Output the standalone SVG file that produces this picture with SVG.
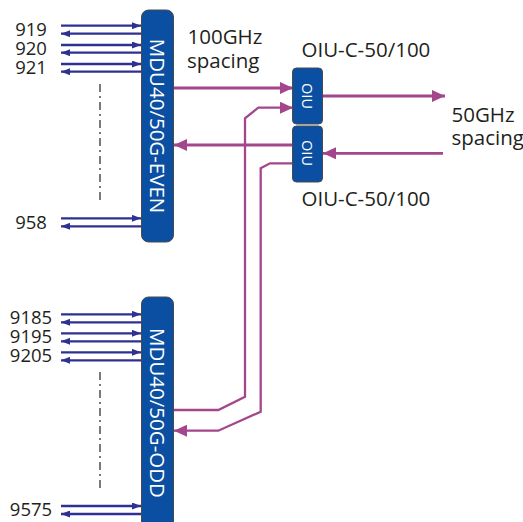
<svg xmlns="http://www.w3.org/2000/svg" width="523" height="522" viewBox="0 0 523 522">
<style>
.lbl{font-family:"Open Sans","Noto Sans","Liberation Sans",sans-serif;fill:#231f20}
.num{font-size:18.5px;text-anchor:middle}
.big{font-size:20.5px}
.box{fill:#0b4fa2;stroke:#4a4a4a;stroke-width:1}
.btxt{font-family:"Open Sans","Noto Sans","Liberation Sans",sans-serif;fill:#ffffff;text-anchor:middle;dominant-baseline:central}
.nv{stroke:#2e3192;stroke-width:2.3;fill:none}
.mg{stroke:#a4468c;stroke-width:2.8;fill:none}
.mg2{stroke:#a4468c;stroke-width:2.3;fill:none}
.dd{stroke:#333;stroke-width:1.3;stroke-dasharray:8 4 2 4;fill:none}
</style>
<defs>
<marker id="an" markerUnits="userSpaceOnUse" viewBox="0 0 9 7" markerWidth="9" markerHeight="7" refX="9" refY="3.5" orient="auto"><path d="M0,0 L9,3.5 L0,7 z" fill="#2e3192"/></marker>
<marker id="am" markerUnits="userSpaceOnUse" viewBox="0 0 13 12" markerWidth="13" markerHeight="12" refX="13" refY="6" orient="auto"><path d="M0,0 L13,6 L0,12 z" fill="#a4468c"/></marker>
</defs>

<g id="connectors">
<path class="nv" d="M61,25.7 H141" marker-end="url(#an)"/>
<path class="nv" d="M141,33.7 H61" marker-end="url(#an)"/>
<path class="nv" d="M61,45 H141" marker-end="url(#an)"/>
<path class="nv" d="M141,52.7 H61" marker-end="url(#an)"/>
<path class="nv" d="M61,64 H141" marker-end="url(#an)"/>
<path class="nv" d="M141,71.7 H61" marker-end="url(#an)"/>
<path class="nv" d="M61,218.3 H141" marker-end="url(#an)"/>
<path class="nv" d="M141,226.3 H61" marker-end="url(#an)"/>
<path class="nv" d="M61,314.3 H141" marker-end="url(#an)"/>
<path class="nv" d="M141,322.3 H61" marker-end="url(#an)"/>
<path class="nv" d="M61,333.3 H141" marker-end="url(#an)"/>
<path class="nv" d="M141,341.3 H61" marker-end="url(#an)"/>
<path class="nv" d="M61,352.3 H141" marker-end="url(#an)"/>
<path class="nv" d="M141,360.3 H61" marker-end="url(#an)"/>
<path class="nv" d="M61,506 H141" marker-end="url(#an)"/>
<path class="nv" d="M141,514 H61" marker-end="url(#an)"/>
<path class="dd" d="M100,84 V204"/>
<path class="dd" d="M100,372 V490"/>
<path class="mg" d="M174,88 H293" marker-end="url(#am)"/>
<path class="mg" d="M322.5,96 H445" marker-end="url(#am)"/>
<path class="mg" d="M443,153.3 H323" marker-end="url(#am)"/>
<path class="mg" d="M292.5,145 H174" marker-end="url(#am)"/>
<path class="mg2" d="M174,410 H218.3 L245,396.7 V118.3 L258.3,107.7 H293" marker-end="url(#am)"/>
<path class="mg2" d="M292.5,163.3 H270 L260.7,168.3 V411.7 L218.3,430.7 H174" marker-end="url(#am)"/>
</g>

<g id="mdu-even">
<rect class="box" x="141.5" y="10" width="32" height="232" rx="7"/>
<text class="btxt" font-size="20.5" transform="translate(158,126) rotate(90)">MDU40/50G-EVEN</text>
</g>
<g id="mdu-odd">
<rect class="box" x="141.5" y="297" width="32" height="240" rx="7"/>
<text class="btxt" font-size="20.5" transform="translate(158,413) rotate(90)">MDU40/50G-ODD</text>
</g>
<g id="oiu-top">
<rect class="box" x="292.5" y="68" width="30" height="56" rx="4"/>
<text class="btxt" font-size="14.5" transform="translate(307.5,96) rotate(90)">OIU</text>
</g>
<g id="oiu-bottom">
<rect class="box" x="292.5" y="126" width="30" height="56" rx="4"/>
<text class="btxt" font-size="14.5" transform="translate(307.5,153) rotate(90)">OIU</text>
</g>

<g id="labels">
<text class="lbl num" x="31" y="36">919</text>
<text class="lbl num" x="31" y="55">920</text>
<text class="lbl num" x="31" y="74">921</text>
<text class="lbl num" x="31" y="229.3">958</text>
<text class="lbl num" x="31" y="324">9185</text>
<text class="lbl num" x="31" y="342.7">9195</text>
<text class="lbl num" x="31" y="361.7">9205</text>
<text class="lbl num" x="31" y="516">9575</text>
<text class="lbl big" x="187.5" y="44">100GHz</text>
<text class="lbl big" x="187" y="68">spacing</text>
<text class="lbl big" x="301.5" y="57">OIU-C-50/100</text>
<text class="lbl big" x="301.5" y="206">OIU-C-50/100</text>
<text class="lbl big" x="451.5" y="121.7">50GHz</text>
<text class="lbl big" x="451.5" y="145">spacing</text>
</g>
</svg>
